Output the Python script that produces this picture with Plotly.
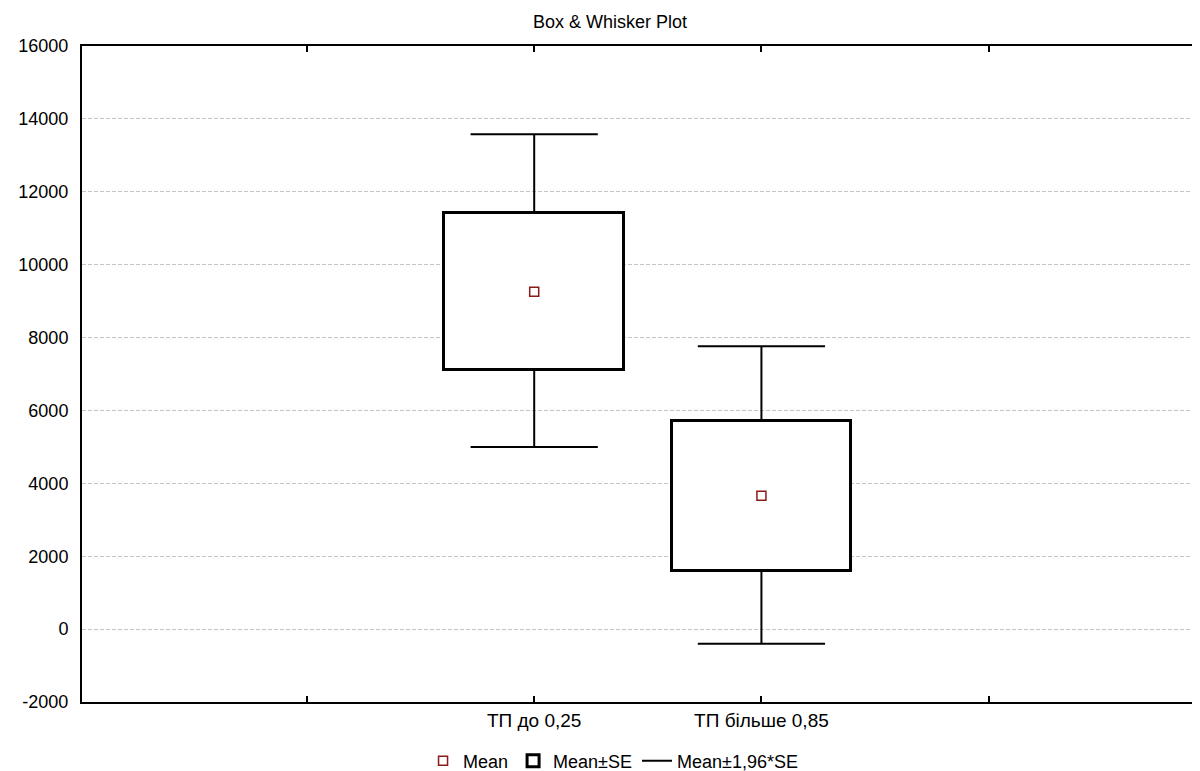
import plotly.graph_objects as go

# ---- data ----
categories = ["ТП до 0,25", "ТП більше 0,85"]
cat_pos = [1, 2]
means = [9260, 3660]
se_low = [7100, 1600]        # Mean - SE
se_high = [11420, 5720]      # Mean + SE
ci_low = [5000, -400]        # Mean - 1.96*SE
ci_high = [13580, 7760]      # Mean + 1.96*SE
y_ticks = [-2000, 0, 2000, 4000, 6000, 8000, 10000, 12000, 14000, 16000]
y_tick_text = ["-2000", "0", "2000", "4000", "6000", "8000", "10000",
               "12000", "14000", "16000"]
x_tick_vals = [0, 1, 2, 3]
x_tick_text = ["", categories[0], categories[1], ""]

FONT = "Liberation Sans, Arial, sans-serif"
box_w = 0.79
cap_half = 0.28

fig = go.Figure()

# boxes (Mean ± SE)
fig.add_trace(go.Bar(
    x=cat_pos,
    base=se_low,
    y=[h - l for h, l in zip(se_high, se_low)],
    width=box_w,
    marker=dict(color="white", line=dict(color="black", width=3)),
    name="Mean±SE",
    showlegend=True,
    hoverinfo="skip",
))

# whiskers (Mean ± 1.96*SE)
wx, wy = [], []
for p, lo, hi, blo, bhi in zip(cat_pos, ci_low, ci_high, se_low, se_high):
    wx += [p, p, None, p - cap_half, p + cap_half, None,
           p, p, None, p - cap_half, p + cap_half, None]
    wy += [bhi, hi, None, hi, hi, None,
           blo, lo, None, lo, lo, None]
fig.add_trace(go.Scatter(
    x=wx, y=wy, mode="lines",
    line=dict(color="black", width=2),
    name="Mean±1,96*SE",
    hoverinfo="skip",
))

# means
fig.add_trace(go.Scatter(
    x=cat_pos, y=means, mode="markers",
    marker=dict(symbol="square-open", size=9, color="#8B1A1A",
                line=dict(width=1.5, color="#8B1A1A")),
    name="Mean",
))

fig.data[2].legendrank = 1
fig.data[0].legendrank = 2
fig.data[1].legendrank = 3

fig.update_layout(
    width=1192, height=763,
    paper_bgcolor="white", plot_bgcolor="white",
    margin=dict(l=74, r=0, t=38, b=69, autoexpand=False),
    font=dict(family=FONT, size=18, color="black"),
    title=dict(text="Box & Whisker Plot", x=0.505, xanchor="center",
               y=0.982, yanchor="middle", font=dict(size=18, family=FONT)),
    showlegend=True,
    legend=dict(orientation="h", x=0.475, xanchor="center", y=-0.09,
                yanchor="middle", font=dict(size=18, family=FONT),
                itemwidth=30, traceorder="normal", bgcolor="rgba(0,0,0,0)"),
    bargap=0,
)

fig.update_xaxes(
    range=[-0.99, 3.93],
    tickmode="array", tickvals=x_tick_vals, ticktext=x_tick_text,
    ticks="inside", ticklen=6, tickwidth=1.5, tickcolor="black",
    showline=True, linecolor="black", linewidth=2, mirror="ticks",
    showgrid=False, zeroline=False, automargin=False,
    tickfont=dict(size=19, family=FONT),
)
fig.update_yaxes(
    range=[-2000, 16000],
    tickmode="array", tickvals=y_ticks, ticktext=y_tick_text,
    ticks="", showline=True, linecolor="black", linewidth=2,
    showgrid=True, gridcolor="#c4c4c4", griddash="4px,2px", gridwidth=1,
    zeroline=False, automargin=False,
    tickfont=dict(size=18, family=FONT),
    ticklabelstandoff=8,
)

fig.write_html("out.html")
